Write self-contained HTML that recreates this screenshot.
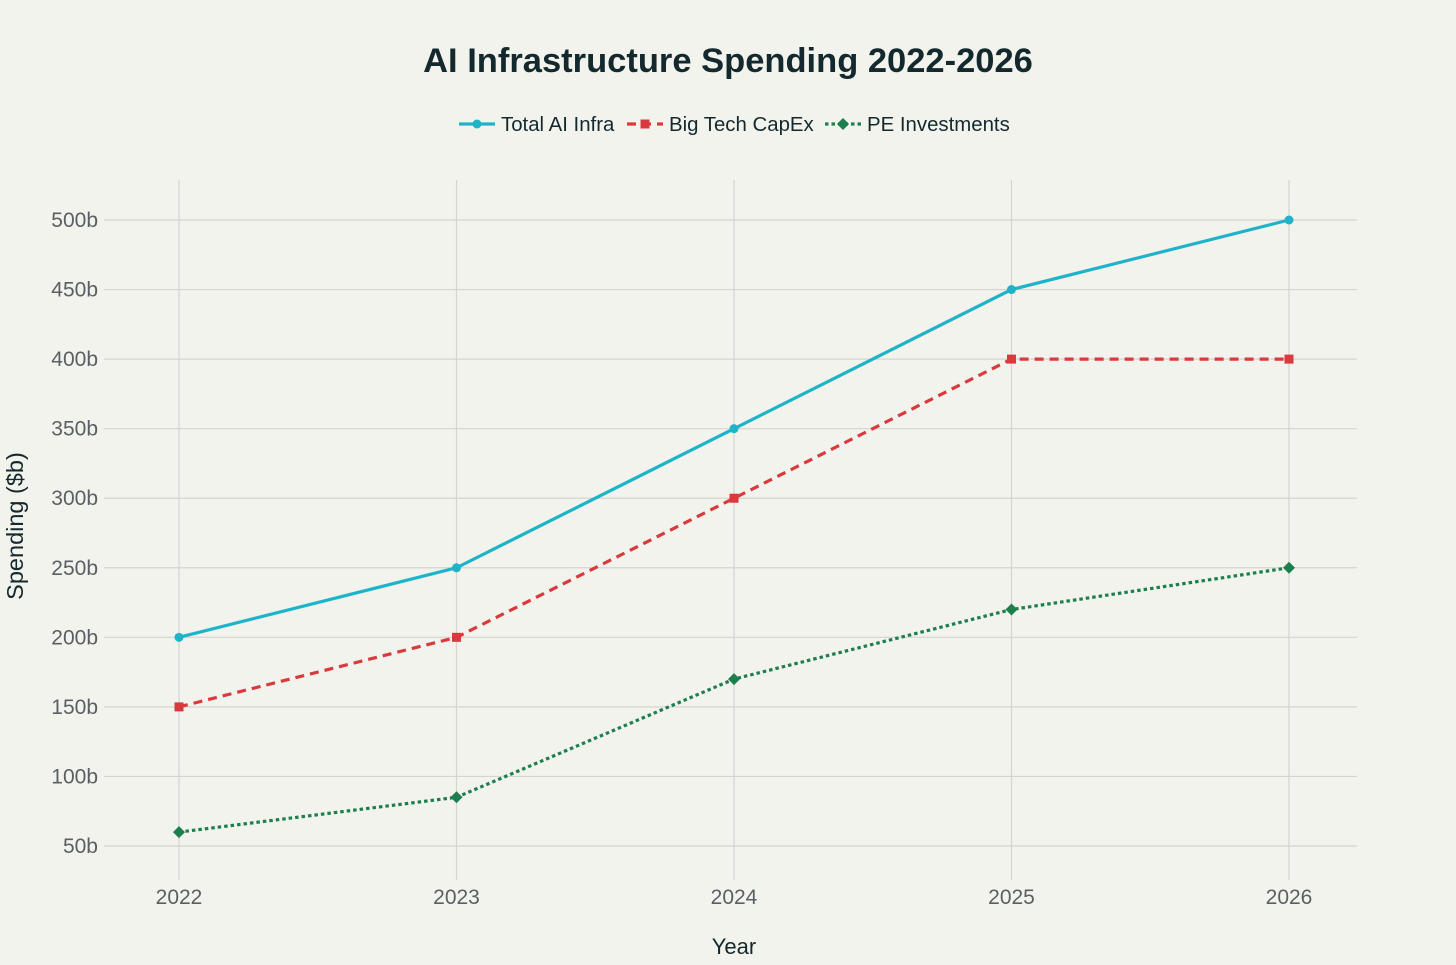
<!DOCTYPE html>
<html><head><meta charset="utf-8"><style>
html,body{margin:0;padding:0;background:#f3f3ee;}
svg{display:block;font-family:"Liberation Sans",sans-serif;}
</style></head><body>
<svg id="chart" width="1456" height="965" viewBox="0 0 1456 965">
<rect width="1456" height="965" fill="#f3f3ee"/>
<text x="728" y="72" text-anchor="middle" font-size="34.5" font-weight="bold" fill="#13292e">AI Infrastructure Spending 2022-2026</text>
<g id="grid"></g>
<g id="series"></g>
<g id="legend"></g>
<text x="734" y="954" text-anchor="middle" font-size="22" fill="#13292e">Year</text>
<text transform="translate(23,526) rotate(-90)" text-anchor="middle" font-size="23.5" fill="#13292e">Spending ($b)</text>
</svg>
<script>
const years = ["2022","2023","2024","2025","2026"];
const totalAI = [200,250,350,450,500];
const bigTech = [150,200,300,400,400];
const peInv = [60,85,170,220,250];
const yTicks = [50,100,150,200,250,300,350,400,450,500];
const seriesNames = ["Total AI Infra","Big Tech CapEx","PE Investments"];

const NS="http://www.w3.org/2000/svg";
const x=i=>179+i*277.5;
const y=v=>846-(v-50)*(626/450);
function mk(t,a,p){const e=document.createElementNS(NS,t);for(const k in a)e.setAttribute(k,a[k]);p.appendChild(e);return e;}
const grid=document.getElementById('grid');
yTicks.forEach(v=>{
  const l=mk('line',{x1:104,x2:1357,y1:y(v),y2:y(v),stroke:'#d4d4d0','stroke-width':1.2},grid);
  
  
  const t=mk('text',{x:98,y:y(v)+7,'text-anchor':'end','font-size':21,fill:'#5a5f63'},grid);
  t.textContent=v+'b';
  
  
});
years.forEach((yr,i)=>{
  const l=mk('line',{x1:x(i),x2:x(i),y1:180,y2:880,stroke:'#d4d4d0','stroke-width':1.2},grid);
  
  
  const t=mk('text',{x:x(i),y:904,'text-anchor':'middle','font-size':21,fill:'#5a5f63'},grid);
  t.textContent=yr;
  
  
});
const sg=document.getElementById('series');
const defs=[
 {d:totalAI,c:'#1fb3c9',dash:'',m:'circle',name:'total-ai-infra'},
 {d:bigTech,c:'#d93a3d',dash:'9,6',m:'square',name:'big-tech-capex'},
 {d:peInv,c:'#1e7f4e',dash:'3.5,3',m:'diamond',name:'pe-investments'}];
function marker(m,cx,cy,c,p,s){
  let e;
  if(m==='circle') e=mk('circle',{cx,cy,r:4.5*s,fill:c},p);
  else if(m==='square') e=mk('rect',{x:cx-4.5*s,y:cy-4.5*s,width:9*s,height:9*s,fill:c},p);
  else e=mk('path',{d:`M${cx} ${cy-6*s}L${cx+6*s} ${cy}L${cx} ${cy+6*s}L${cx-6*s} ${cy}Z`,fill:c},p);
  return e;
}
defs.forEach(s=>{
  const pl=mk('polyline',{points:s.d.map((v,i)=>x(i)+','+y(v)).join(' '),fill:'none',stroke:s.c,'stroke-width':3.2,'stroke-dasharray':s.dash},sg);
  
  
  s.d.forEach((v,i)=>{
    const e=marker(s.m,x(i),y(v),s.c,sg,1);
    
    
  });
});
const lg=document.getElementById('legend');
const lx=[459,627,825];
defs.forEach((s,i)=>{
  const g=mk('g',{},lg);
  
  
  mk('line',{x1:lx[i],x2:lx[i]+36,y1:124,y2:124,stroke:s.c,'stroke-width':3.2,'stroke-dasharray':s.dash},g);
  marker(s.m,lx[i]+18,124,s.c,g,1);
  const t=mk('text',{x:lx[i]+42,y:131,'font-size':20.4,fill:'#13292e'},g);
  t.textContent=seriesNames[i];
});
</script>
</body></html>
